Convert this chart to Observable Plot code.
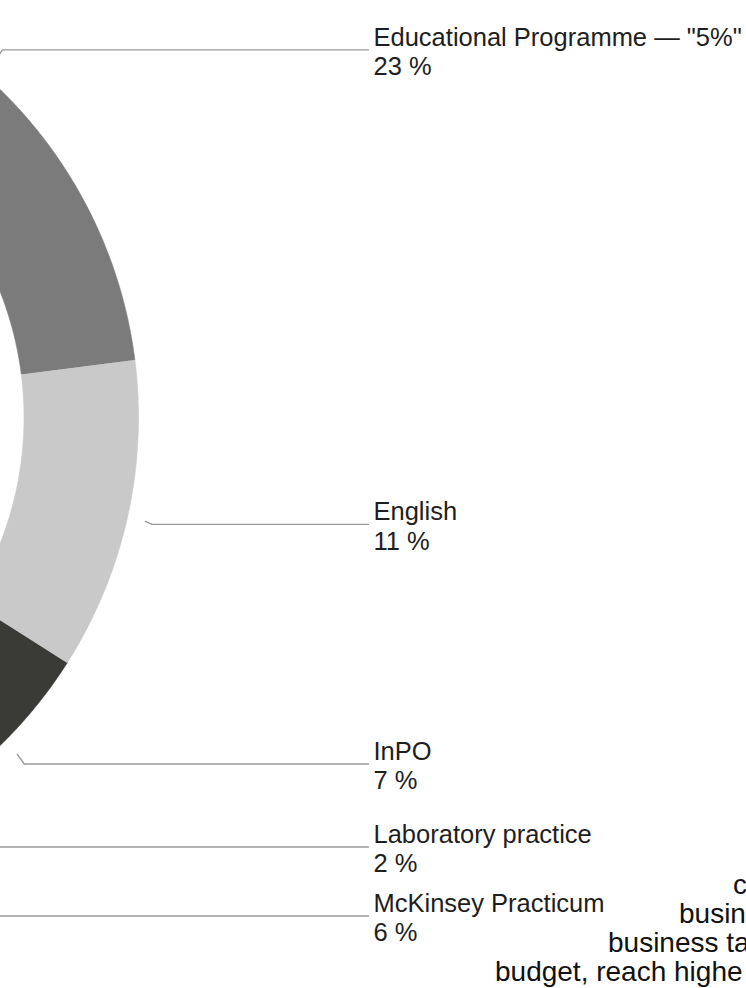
<!DOCTYPE html>
<html>
<head>
<meta charset="utf-8">
<script src="https://cdn.jsdelivr.net/npm/d3@7"></script>
<script src="https://cdn.jsdelivr.net/npm/@observablehq/plot@0.6"></script>
<style>
  html, body { margin: 0; padding: 0; background: #ffffff; overflow: hidden; }
  #wrap { position: relative; width: 746px; height: 988px; overflow: hidden; }
  #chart svg { display: block; }
  .note { position: absolute; font-family: "Liberation Sans", Arial, Helvetica, sans-serif;
          font-size: 28px; line-height: 28px; color: #111; white-space: pre; }
</style>
</head>
<body>
<div id="wrap">
  <div id="chart"></div>
  <div class="note" style="left:733px; top:871px">c</div>
  <div class="note" style="left:679px; top:900px">busin</div>
  <div class="note" style="left:608px; top:929px">business ta</div>
  <div class="note" style="left:495px; top:958px">budget, reach highe</div>
</div>
<script>
// Share of each programme in the budget, in percent
const categories = ["Educational Programme — \"5%\"", "English", "InPO", "Laboratory practice", "McKinsey Practicum"];
const shares = [23, 11, 7, 2, 6];
const sliceColors = ["#7b7b7b", "#c9c9c9", "#3a3a37", "#5e5e5e", "#a3a3a3"];

// Layout: the ring is centred to the left of the frame, so only its right side shows
const W = 746, H = 988;
const R = 458;                 // outer radius, px
const CX = -320, CY = 417;     // ring centre, px
const INNER = 0.75;            // inner radius / outer radius
const LABEL_X = (373 - CX) / R;
const LINE_END = (368 - CX) / R;
const MIN_GAP = 69 / R;

// Angles clockwise from twelve o'clock
let acc = 0;
const slices = categories.map((name, i) => {
  const a0 = acc / 100 * 2 * Math.PI;
  acc += shares[i];
  const a1 = acc / 100 * 2 * Math.PI;
  return {name, share: shares[i], a0, a1, mid: (a0 + a1) / 2};
});

// Ring outline for every slice (outer arc, then inner arc back)
const ringPoints = [];
for (const s of slices) {
  const n = Math.max(2, Math.ceil((s.a1 - s.a0) / (Math.PI / 720)));
  for (let k = 0; k <= n; k++) {
    const a = s.a0 + (s.a1 - s.a0) * k / n;
    ringPoints.push({name: s.name, x: Math.sin(a), y: -Math.cos(a)});
  }
  for (let k = n; k >= 0; k--) {
    const a = s.a0 + (s.a1 - s.a0) * k / n;
    ringPoints.push({name: s.name, x: INNER * Math.sin(a), y: -INNER * Math.cos(a)});
  }
}

// Label positions, pushed apart so the two-line labels do not overlap
const labels = slices.map(s => ({...s, ly: -1.07 * Math.cos(s.mid), lx: LABEL_X}))
  .sort((a, b) => a.ly - b.ly);
for (let i = 1; i < labels.length; i++) {
  if (labels[i].ly < labels[i - 1].ly + MIN_GAP) labels[i].ly = labels[i - 1].ly + MIN_GAP;
}

const leaderPoints = [];
for (const l of labels) {
  const x0 = 1.04 * Math.sin(l.mid), y0 = -1.04 * Math.cos(l.mid);
  leaderPoints.push({name: l.name, x: x0, y: y0});
  leaderPoints.push({name: l.name, x: x0 + 0.015, y: l.ly});
  leaderPoints.push({name: l.name, x: LINE_END, y: l.ly});
}

const chart = Plot.plot({
  width: W,
  height: H,
  margin: 0,
  x: {domain: [(0 - CX) / R, (W - CX) / R], range: [0, W], axis: null},
  y: {domain: [(0 - CY) / R, (H - CY) / R], range: [0, H], axis: null},
  color: {domain: categories, range: sliceColors},
  style: {background: "#ffffff", fontFamily: "'Liberation Sans', Arial, Helvetica, sans-serif"},
  marks: [
    Plot.line(ringPoints, {x: "x", y: "y", z: "name", fill: "name", stroke: "name", strokeWidth: 0.6, curve: "linear", clip: true}),
    Plot.line(leaderPoints, {x: "x", y: "y", z: "name", stroke: "#9a9a9a", strokeWidth: 1.4, clip: true}),
    Plot.text(labels, {
      x: "lx", y: "ly",
      text: d => `${d.name}\n${d.share} %`,
      textAnchor: "start", lineAnchor: "middle", lineHeight: 1.17,
      fontSize: 25.5, dy: 1, fill: "#1e1e1e"
    })
  ]
});
document.getElementById("chart").append(chart);
</script>
</body>
</html>
